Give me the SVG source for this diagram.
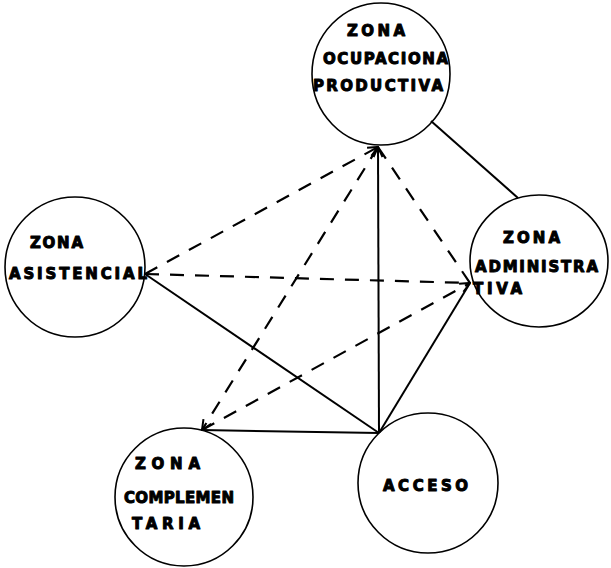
<svg xmlns="http://www.w3.org/2000/svg" width="611" height="568" viewBox="0 0 611 568">
<style>
.n{fill:none;stroke:#000;stroke-width:1.6}
.t{font-family:"DejaVu Sans","Liberation Sans",Arial,sans-serif;font-weight:bold;font-size:15px;fill:#000;stroke:#000;stroke-width:1;stroke-linejoin:round}
.s{fill:none;stroke:#000;stroke-width:2}
.d{fill:none;stroke:#000;stroke-width:2.2;stroke-dasharray:14 11}
</style>
<defs>
<marker id="ah" markerWidth="12" markerHeight="12" refX="11" refY="6" orient="auto" markerUnits="userSpaceOnUse">
<path d="M1,1.5 L11,6 L1,10.5" fill="none" stroke="#000" stroke-width="2"/>
</marker>
</defs>
<rect width="611" height="568" fill="#fff"/>
<g id="connectors">
<line class="s" x1="431" y1="121" x2="518" y2="198"/>
<line class="s" x1="145" y1="274" x2="379" y2="433"/>
<line class="s" x1="202" y1="430" x2="379" y2="433"/>
<line class="s" x1="379" y1="433" x2="378" y2="147" marker-end="url(#ah)"/>
<line class="s" x1="379" y1="433" x2="470" y2="283"/>
<line class="d" x1="145" y1="274" x2="378" y2="147" marker-end="url(#ah)"/>
<line class="d" x1="145" y1="274" x2="470" y2="283"/>
<line class="d" x1="378" y1="147" x2="202" y2="430" marker-end="url(#ah)"/>
<line class="d" x1="378" y1="147" x2="470" y2="283"/>
<line class="d" x1="202" y1="430" x2="470" y2="283" marker-end="url(#ah)"/>
</g>
<g id="zona-ocupacional">
<ellipse class="n" cx="381" cy="74" rx="69" ry="71"/>
<text class="t" x="347" y="36" textLength="58" lengthAdjust="spacing">ZONA</text>
<text class="t" x="323" y="64" textLength="125" lengthAdjust="spacing">OCUPACIONA</text>
<text class="t" x="313" y="91" textLength="130" lengthAdjust="spacing">PRODUCTIVA</text>
</g>
<g id="zona-asistencial">
<circle class="n" cx="75" cy="267" r="70"/>
<text class="t" x="30" y="248" textLength="53" lengthAdjust="spacing">ZONA</text>
<text class="t" x="9" y="279" textLength="138" lengthAdjust="spacing">ASISTENCIAL</text>
</g>
<g id="zona-administrativa">
<ellipse class="n" cx="539" cy="261" rx="69" ry="66"/>
<text class="t" x="503" y="243" textLength="57" lengthAdjust="spacing">ZONA</text>
<text class="t" x="475" y="272" textLength="123" lengthAdjust="spacing">ADMINISTRA</text>
<text class="t" x="473" y="294" textLength="49" lengthAdjust="spacing">TIVA</text>
</g>
<g id="zona-complementaria">
<circle class="n" cx="184" cy="497" r="69"/>
<text class="t" x="135" y="469" textLength="65" lengthAdjust="spacing">ZONA</text>
<text class="t" x="124" y="503" textLength="110" lengthAdjust="spacing">COMPLEMEN</text>
<text class="t" x="132" y="529" textLength="68" lengthAdjust="spacing">TARIA</text>
</g>
<g id="acceso">
<circle class="n" cx="428" cy="483" r="70"/>
<text class="t" x="383" y="491" textLength="85" lengthAdjust="spacing">ACCESO</text>
</g>
</svg>
